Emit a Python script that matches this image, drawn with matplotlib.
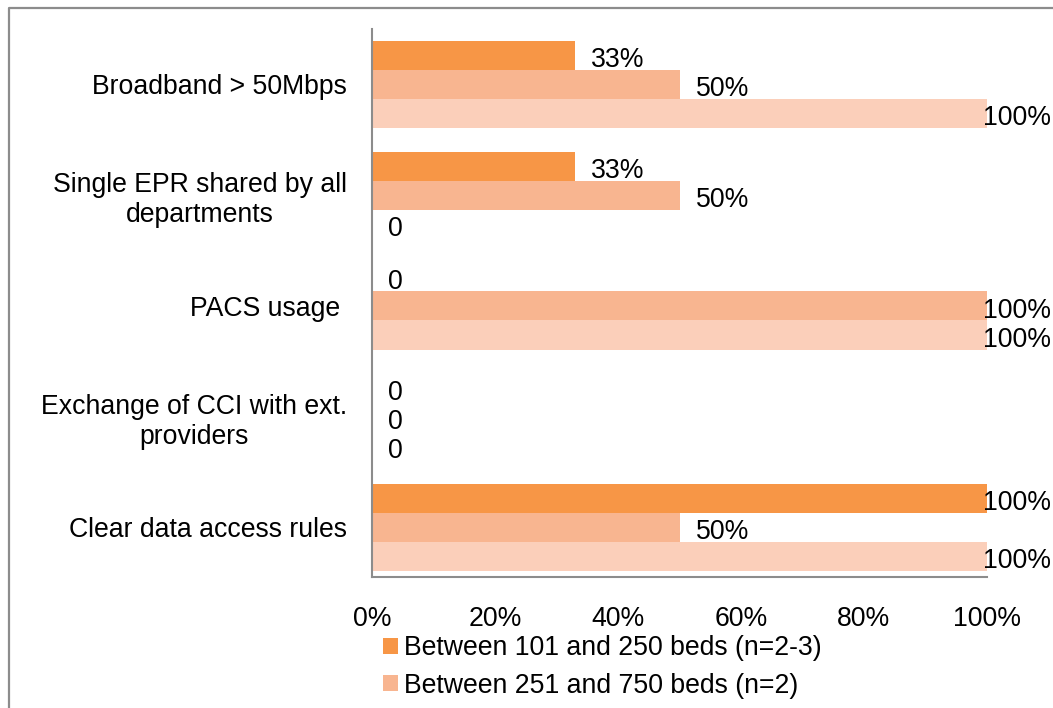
import matplotlib.pyplot as plt
import numpy as np
from matplotlib.lines import Line2D

plt.rcParams['font.family'] = ['Liberation Sans', 'DejaVu Sans']

categories = ["Broadband > 50Mbps", "Single EPR shared by all\ndepartments", "PACS usage ",
              "Exchange of CCI with ext.\nproviders", "Clear data access rules"]
series_names = ["Between 101 and 250 beds (n=2-3)", "Between 251 and 750 beds (n=2)",
                "More than 750 beds"]
beds_101_250 = [0.33, 0.33, 0.0, 0.0, 1.0]
beds_251_750 = [0.50, 0.50, 1.0, 0.0, 0.50]
beds_750_plus = [1.0, 0.0, 1.0, 0.0, 1.0]
colors = ["#F79646", "#F8B590", "#FBCFBA"]

fs = 19.2
fig = plt.figure(figsize=(10.53, 7.08), dpi=100)
ax = fig.add_axes([372 / 1053, 1 - 577 / 708, (987 - 372) / 1053, (577 - 29) / 708])

y = np.arange(len(categories))
h = 0.262
handles = []
for i, (vals, col) in enumerate(zip([beds_101_250, beds_251_750, beds_750_plus], colors)):
    pos = y + (i - 1) * h
    b = ax.barh(pos, vals, height=h, color=col, label=series_names[i])
    handles.append(b)
    for p, v in zip(pos, vals):
        txt = "0" if v == 0 else f"{v:.0%}"
        dx = -4 if v >= 1 else 16
        ax.annotate(txt, (v, p), xytext=(dx * 0.72, -3.5), textcoords="offset points",
                    ha="left", va="center", fontsize=fs, annotation_clip=False)

ax.set_xlim(0, 1)
ax.set_ylim(4.447, -0.501)
ax.set_xticks(np.linspace(0, 1, 6))
ax.set_xticklabels([f"{int(t * 100)}%" for t in np.linspace(0, 1, 6)], fontsize=fs)
ax.set_yticks(y)
ax.set_yticklabels(categories, fontsize=fs, multialignment="center")
ax.tick_params(length=0, pad=18)
ax.tick_params(axis="x", pad=21)
for s in ["top", "right"]:
    ax.spines[s].set_visible(False)
for s in ["left", "bottom"]:
    ax.spines[s].set_color("#8c8c8c")
    ax.spines[s].set_linewidth(1.5)

fig.legend(handles[:2], series_names[:2], loc="upper left", bbox_to_anchor=(383 / 1053, 1 - 635 / 708),
           frameon=False, fontsize=fs, handlelength=0.55, handleheight=0.55,
           handletextpad=0.25, labelspacing=0.44, borderpad=0, borderaxespad=0)

# outer chart frame
fig.add_artist(Line2D([9 / 1053, 9 / 1053, 1.0], [0, 1 - 8 / 708, 1 - 8 / 708],
                      transform=fig.transFigure, color="#8c8c8c", linewidth=1.6))

fig.savefig("out.png", dpi=100)
